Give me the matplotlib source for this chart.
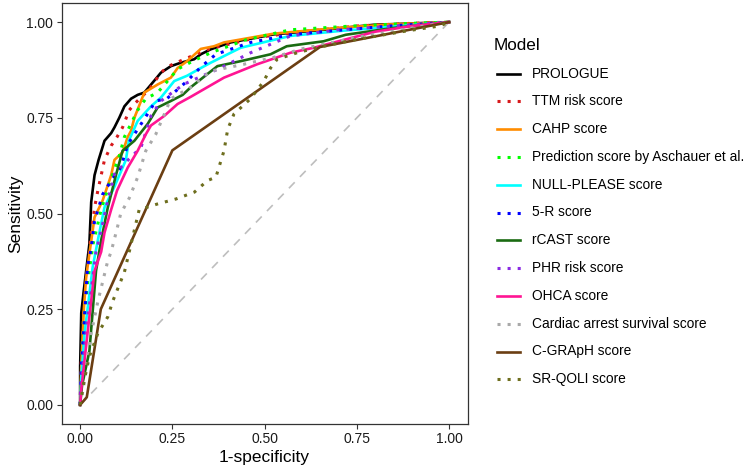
import matplotlib
matplotlib.use("Agg")
import matplotlib.pyplot as plt
from matplotlib.lines import Line2D

plt.rcParams['font.family'] = ['Liberation Sans', 'DejaVu Sans']

# ---- data (1-specificity, sensitivity) ----
models = ["PROLOGUE", "TTM risk score", "CAHP score", "Prediction score by Aschauer et al.",
          "NULL-PLEASE score", "5-R score", "rCAST score", "PHR risk score", "OHCA score",
          "Cardiac arrest survival score", "C-GRApH score", "SR-QOLI score"]

prologue_x = [0, 0.0, 0.003, 0.01, 0.02, 0.025, 0.03, 0.039, 0.05, 0.066, 0.084, 0.093, 0.106, 0.12, 0.138,
              0.156, 0.174, 0.20, 0.219, 0.246, 0.273, 0.309, 0.327, 0.354, 0.408, 0.525, 0.66, 0.795, 1.0]
prologue_y = [0, 0.10, 0.24, 0.30, 0.38, 0.42, 0.53, 0.60, 0.64, 0.69, 0.71, 0.725, 0.75, 0.78, 0.80,
              0.81, 0.816, 0.846, 0.868, 0.885, 0.894, 0.903, 0.916, 0.929, 0.947, 0.968, 0.98, 0.993, 1.0]

ttm_x = [0, 0.003, 0.01, 0.02, 0.03, 0.04, 0.048, 0.066, 0.084, 0.10, 0.115, 0.133, 0.151, 0.187, 0.219,
         0.24, 0.282, 0.35, 0.48, 0.6, 0.75, 0.9, 1.0]
ttm_y = [0, 0.12, 0.25, 0.35, 0.45, 0.52, 0.56, 0.64, 0.677, 0.70, 0.725, 0.77, 0.79, 0.824, 0.868,
         0.885, 0.903, 0.93, 0.96, 0.975, 0.99, 0.997, 1.0]

cahp_x = [0, 0.003, 0.01, 0.016, 0.02, 0.039, 0.061, 0.084, 0.093, 0.115, 0.129, 0.138, 0.147, 0.165,
          0.174, 0.21, 0.246, 0.264, 0.29, 0.327, 0.363, 0.39, 0.525, 0.7, 0.84, 1.0]
cahp_y = [0, 0.10, 0.25, 0.33, 0.36, 0.49, 0.534, 0.60, 0.64, 0.66, 0.70, 0.716, 0.75, 0.794,
          0.816, 0.837, 0.855, 0.88, 0.898, 0.93, 0.937, 0.947, 0.97, 0.985, 0.994, 1.0]

asch_x = [0, 0.003, 0.01, 0.02, 0.035, 0.057, 0.079, 0.106, 0.12, 0.156, 0.178, 0.21, 0.237, 0.264,
          0.305, 0.354, 0.45, 0.57, 0.74, 0.9, 1.0]
asch_y = [0, 0.08, 0.2, 0.32, 0.42, 0.51, 0.577, 0.65, 0.70, 0.77, 0.80, 0.816, 0.846, 0.877,
          0.898, 0.92, 0.954, 0.98, 0.99, 0.997, 1.0]

null_x = [0, 0.003, 0.012, 0.034, 0.05, 0.066, 0.093, 0.124, 0.132, 0.156, 0.192, 0.219, 0.255, 0.29,
          0.327, 0.354, 0.435, 0.57, 0.705, 0.82, 1.0]
null_y = [0, 0.07, 0.187, 0.36, 0.44, 0.516, 0.57, 0.64, 0.69, 0.742, 0.78, 0.803, 0.846, 0.86,
          0.88, 0.894, 0.933, 0.964, 0.977, 0.986, 1.0]

r5_x = [0, 0.003, 0.01, 0.02, 0.03, 0.039, 0.061, 0.084, 0.11, 0.129, 0.147, 0.174, 0.205, 0.235,
        0.264, 0.29, 0.309, 0.33, 0.368, 0.462, 0.57, 0.68, 0.84, 1.0]
r5_y = [0, 0.1, 0.2, 0.36, 0.41, 0.48, 0.55, 0.586, 0.62, 0.68, 0.707, 0.747, 0.794, 0.80,
        0.824, 0.846, 0.865, 0.885, 0.916, 0.947, 0.967, 0.977, 0.99, 1.0]

rcast_x = [0, 0.005, 0.025, 0.043, 0.057, 0.075, 0.097, 0.115, 0.147, 0.183, 0.21, 0.246, 0.278, 0.30,
           0.372, 0.435, 0.516, 0.56, 0.66, 0.72, 0.85, 1.0]
rcast_y = [0, 0.05, 0.14, 0.35, 0.43, 0.516, 0.60, 0.664, 0.69, 0.734, 0.777, 0.794, 0.81, 0.83,
           0.885, 0.898, 0.916, 0.937, 0.95, 0.967, 0.985, 1.0]

phr_x = [0, 0.003, 0.015, 0.03, 0.043, 0.057, 0.075, 0.093, 0.13, 0.165, 0.192, 0.219, 0.255, 0.282,
         0.309, 0.38, 0.462, 0.57, 0.7, 0.85, 1.0]
phr_y = [0, 0.06, 0.18, 0.3, 0.4, 0.456, 0.534, 0.603, 0.64, 0.673, 0.755, 0.794, 0.82, 0.838,
         0.85, 0.88, 0.92, 0.964, 0.98, 0.99, 1.0]

ohca_x = [0, 0.003, 0.02, 0.039, 0.057, 0.066, 0.084, 0.10, 0.129, 0.156, 0.178, 0.192, 0.228, 0.264,
          0.30, 0.39, 0.48, 0.57, 0.633, 0.7, 0.8, 0.9, 1.0]
ohca_y = [0, 0.04, 0.187, 0.35, 0.40, 0.45, 0.51, 0.56, 0.62, 0.664, 0.707, 0.73, 0.755, 0.786,
          0.805, 0.855, 0.89, 0.92, 0.933, 0.95, 0.975, 0.99, 1.0]

cass_x = [0, 0.01, 0.03, 0.048, 0.075, 0.084, 0.10, 0.11, 0.133, 0.156, 0.178, 0.205, 0.246, 0.30,
          0.354, 0.444, 0.525, 0.6, 0.75, 0.9, 1.0]
cass_y = [0, 0.05, 0.187, 0.27, 0.377, 0.40, 0.46, 0.50, 0.54, 0.595, 0.664, 0.707, 0.80, 0.83,
          0.872, 0.89, 0.908, 0.93, 0.96, 0.985, 1.0]

cgraph_x = [0, 0.018, 0.056, 0.25, 0.65, 1.0]
cgraph_y = [0, 0.02, 0.25, 0.665, 0.935, 1.0]

srqoli_x = [0, 0.01, 0.025, 0.048, 0.075, 0.088, 0.12, 0.138, 0.16, 0.21, 0.26, 0.31, 0.345, 0.368,
            0.39, 0.40, 0.417, 0.462, 0.498, 0.516, 0.534, 0.588, 0.65, 0.75, 0.885, 0.975, 1.0]
srqoli_y = [0, 0.06, 0.126, 0.187, 0.23, 0.27, 0.347, 0.42, 0.51, 0.525, 0.538, 0.556, 0.586, 0.595,
            0.664, 0.72, 0.76, 0.80, 0.846, 0.88, 0.903, 0.92, 0.935, 0.955, 0.977, 0.99, 1.0]

xs = [prologue_x, ttm_x, cahp_x, asch_x, null_x, r5_x, rcast_x, phr_x, ohca_x, cass_x, cgraph_x, srqoli_x]
ys = [prologue_y, ttm_y, cahp_y, asch_y, null_y, r5_y, rcast_y, phr_y, ohca_y, cass_y, cgraph_y, srqoli_y]

colors = ["#000000", "#D7191C", "#FF8C00", "#00FF00", "#00FFFF", "#0000FF", "#1A6B12", "#8A2BE2",
          "#FF1493", "#A9A9A9", "#6B3E12", "#6E6E1E"]
dotted = [False, True, False, True, False, True, False, True, False, True, False, True]

tick_vals = [0.0, 0.25, 0.5, 0.75, 1.0]
tick_labels = ["0.00", "0.25", "0.50", "0.75", "1.00"]

# ---- figure ----
W, H = 750, 471
fig = plt.figure(figsize=(7.5, 4.71), dpi=100)
ax = fig.add_axes([61.7 / W, 1 - 424 / H, (467.5 - 61.7) / W, (424 - 3) / H])

ax.plot([0, 1], [0, 1], color="#BEBEBE", lw=1.2, linestyle=(0, (5, 4.5)), zorder=1)

LW = 1.9
DLW = 2.2
dot_style = (0, (1.0, 2.3))
for x, y, c, d in zip(xs, ys, colors, dotted):
    if d:
        ax.plot(x, y, color=c, lw=DLW, linestyle=dot_style, dash_capstyle='butt', zorder=2)
    else:
        ax.plot(x, y, color=c, lw=LW, zorder=2)

ax.set_xlim(-0.05, 1.05)
ax.set_ylim(-0.05, 1.05)
ax.set_xticks(tick_vals)
ax.set_xticklabels(tick_labels)
ax.set_yticks(tick_vals)
ax.set_yticklabels(tick_labels)
ax.tick_params(axis='both', length=3.6, width=0.8, color="#333333", labelsize=10,
               labelcolor="#1A1A1A", pad=2.5)
for s in ax.spines.values():
    s.set_color("#333333")
    s.set_linewidth(0.9)
ax.set_xlabel("1-specificity", fontsize=12.5, labelpad=2.5)
ax.set_ylabel("Sensitivity", fontsize=12.5, labelpad=2)

# ---- legend (manual) ----
fig.text(494 / W, 1 - 45 / H, "Model", fontsize=12.3, va='center', ha='left')
y0, dy = 73.5, 27.8
for i, (m, c, d) in enumerate(zip(models, colors, dotted)):
    yy = 1 - (y0 + i * dy) / H
    if d:
        fig.add_artist(Line2D([496.5 / W, 521 / W], [yy, yy], color=c, lw=DLW,
                              linestyle=dot_style, dash_capstyle='butt'))
    else:
        fig.add_artist(Line2D([496.5 / W, 520 / W], [yy, yy], color=c, lw=LW))
    fig.text(531.5 / W, yy, m, fontsize=9.9, va='center', ha='left')

fig.savefig("out.png", dpi=100)
